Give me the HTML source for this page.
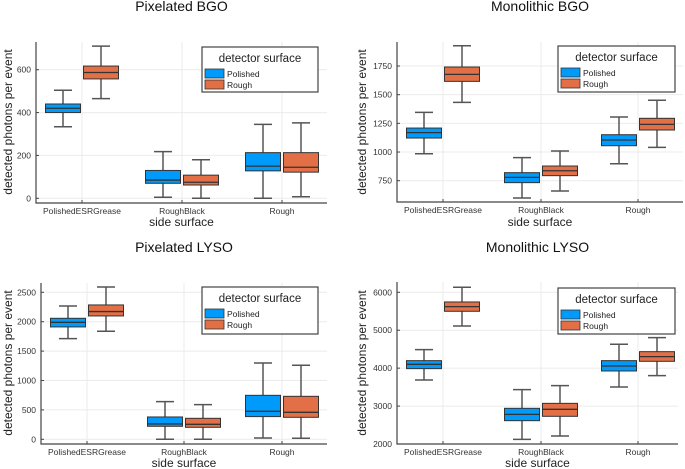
<!DOCTYPE html>
<html><head><meta charset="utf-8"><style>
html,body{margin:0;padding:0;background:#fff;}
svg{display:block;font-family:"Liberation Sans","DejaVu Sans",sans-serif;}
</style></head><body>
<svg id="chart" width="685" height="469" viewBox="0 0 685 469" xmlns="http://www.w3.org/2000/svg"></svg>
<script>
const categories = ["PolishedESRGrease", "RoughBlack", "Rough"];
const seriesNames = ["Polished", "Rough"];
const panelTitles = ["Pixelated BGO", "Monolithic BGO", "Pixelated LYSO", "Monolithic LYSO"];
// [whisker low, q1, median, q3, whisker high] per category
const pixBgoPolished = [[334,400,420,440,504],[5,70,85,130,218],[0,128,150,213,345]];
const pixBgoRough = [[465,557,587,617,710],[0,62,75,108,180],[7,122,145,213,352]];
const monoBgoPolished = [[985,1122,1169,1209,1346],[599,733,779,820,951],[898,1055,1105,1151,1305]];
const monoBgoRough = [[1433,1616,1677,1741,1927],[660,794,837,878,1009],[1041,1192,1241,1294,1451]];
const pixLysoPolished = [[1712,1911,1990,2058,2268],[0,221,261,380,641],[23,386,476,748,1298]];
const pixLysoRough = [[1837,2098,2172,2285,2591],[0,204,255,357,590],[17,374,459,731,1259]];
const monoLysoPolished = [[3688,3987,4101,4198,4488],[2123,2615,2782,2941,3433],[3503,3925,4057,4198,4629]];
const monoLysoRough = [[5112,5499,5622,5745,6132],[2211,2730,2914,3072,3538],[3802,4180,4303,4435,4804]];
const pixBgoTicks = [0,200,400,600];
const monoBgoTicks = [750,1000,1250,1500,1750];
const pixLysoTicks = [0,500,1000,1500,2000,2500];
const monoLysoTicks = [2000,3000,4000,5000,6000];

const colors = ["#009AFA", "#E26F46"];
const NS = "http://www.w3.org/2000/svg";
const svg = document.getElementById("chart");
function mk(tag, attrs, parent, text) {
  const e = document.createElementNS(NS, tag);
  for (const k in attrs) e.setAttribute(k, attrs[k]);
  if (text !== undefined) e.textContent = text;
  (parent || svg).appendChild(e);
  return e;
}
// layout geometry: plot box + y calibration (two reference values -> pixels)
const panels = [
  {name:"pixelated-bgo", title:panelTitles[0], L:36, R:327, T:42, B:203, v0:0, p0:198.3, v1:600, p1:69.7, cats:[82,182,282], ticks:pixBgoTicks, data:[pixBgoPolished,pixBgoRough], leg:[202,47,116,45], titleY:11, tickY:214, xlabY:226, ylabX:8, ylabY:122},
  {name:"monolithic-bgo", title:panelTitles[1], L:397, R:683, T:42, B:202, v0:750, p0:180.7, v1:1750, p1:66, cats:[443,541,638], ticks:monoBgoTicks, data:[monoBgoPolished,monoBgoRough], leg:[558,46,117,46], titleY:11, tickY:213, xlabY:226, ylabX:362, ylabY:122},
  {name:"pixelated-lyso", title:panelTitles[2], L:41, R:327, T:283, B:444, v0:0, p0:439.3, v1:2500, p1:292.3, cats:[87,184,282], ticks:pixLysoTicks, data:[pixLysoPolished,pixLysoRough], leg:[202,287,116,47], titleY:252, tickY:455, xlabY:467, ylabX:8, ylabY:363},
  {name:"monolithic-lyso", title:panelTitles[3], L:397, R:678, T:282, B:444, v0:2000, p0:444, v1:6000, p1:292.3, cats:[443,541,638], ticks:monoLysoTicks, data:[monoLysoPolished,monoLysoRough], leg:[558,288,117,46], titleY:252, tickY:455, xlabY:467, ylabX:362, ylabY:363}
];

panels.forEach(P => {
  const g = mk("g", {});
  
  
  const y = v => P.p0 + (v - P.v0) * (P.p1 - P.p0) / (P.v1 - P.v0);
  const cx = (c, s) => P.cats[c] + (s === 0 ? -19 : 19);
  const cx0 = (P.L + P.R) / 2;
  // grid
  P.ticks.forEach(t => {
    const l = mk("line", {x1:P.L, x2:P.R, y1:y(t), y2:y(t), stroke:"#ebebeb", "stroke-width":1}, g);
    
    
  });
  P.cats.forEach(c => {
    const l = mk("line", {x1:c, x2:c, y1:P.T, y2:P.B, stroke:"#ebebeb", "stroke-width":1}, g);
    
    
  });
  // title
  const ti = mk("text", {x:cx0, y:P.titleY, "text-anchor":"middle", "font-size":14, fill:"#111"}, g, P.title);
  
  
  // boxes
  P.data.forEach((series, s) => {
    series.forEach((d, c) => {
      const x = cx(c, s), w = 35;
      const bg = mk("g", {}, g);
      
      
      mk("line", {x1:x, x2:x, y1:y(d[0]), y2:y(d[4]), stroke:"#555", "stroke-width":1.5}, bg);
      mk("line", {x1:x-9, x2:x+9, y1:y(d[0]), y2:y(d[0]), stroke:"#555", "stroke-width":1.5}, bg);
      mk("line", {x1:x-9, x2:x+9, y1:y(d[4]), y2:y(d[4]), stroke:"#555", "stroke-width":1.5}, bg);
      mk("rect", {x:x-w/2, y:y(d[3]), width:w, height:y(d[1])-y(d[3]), fill:colors[s], stroke:"#333", "stroke-width":1}, bg);
      mk("line", {x1:x-w/2, x2:x+w/2, y1:y(d[2]), y2:y(d[2]), stroke:"#333", "stroke-width":1.3}, bg);
    });
  });
  // axes
  const ax = mk("path", {d:`M${P.L},${P.T} V${P.B} H${P.R}`, fill:"none", stroke:"#444", "stroke-width":1.2}, g);
  
  
  P.ticks.forEach(t => {
    mk("line", {x1:P.L, x2:P.L+3, y1:y(t), y2:y(t), stroke:"#444"}, g);
    const tl = mk("text", {x:P.L-5, y:y(t)+3, "text-anchor":"end", "font-size":8.5, fill:"#333"}, g, String(t));
    
    
  });
  P.cats.forEach((c, i) => {
    mk("line", {x1:c, x2:c, y1:P.B, y2:P.B-3, stroke:"#444"}, g);
    const tl = mk("text", {x:c, y:P.tickY, "text-anchor":"middle", "font-size":8.5, fill:"#333"}, g, categories[i]);
    
    
  });
  const xl = mk("text", {x:cx0, y:P.xlabY, "text-anchor":"middle", "font-size":12, fill:"#222"}, g, "side surface");
  
  
  const yl = mk("text", {x:0, y:0, "text-anchor":"middle", "font-size":12, fill:"#222", transform:`translate(${P.ylabX+4},${P.ylabY}) rotate(-90)`}, g, "detected photons per event");
  
  
  // legend
  const [lx, ly, lw, lh] = P.leg;
  const lg = mk("g", {}, g);
  
  
  mk("rect", {x:lx, y:ly, width:lw, height:lh, fill:"#fff", stroke:"#444", "stroke-width":1.2}, lg);
  mk("text", {x:lx+lw/2, y:ly+15, "text-anchor":"middle", "font-size":11.5, fill:"#222"}, lg, "detector surface");
  seriesNames.forEach((n, s) => {
    const eg = mk("g", {}, lg);
    
    
    const ey = ly + 22 + s * 11;
    mk("rect", {x:lx+3, y:ey-5+5, width:19, height:9, fill:colors[s], stroke:"#333", "stroke-width":0.8}, eg);
    mk("text", {x:lx+25, y:ey+8, "font-size":8.5, fill:"#222"}, eg, n);
  });
});
</script>
</body></html>
